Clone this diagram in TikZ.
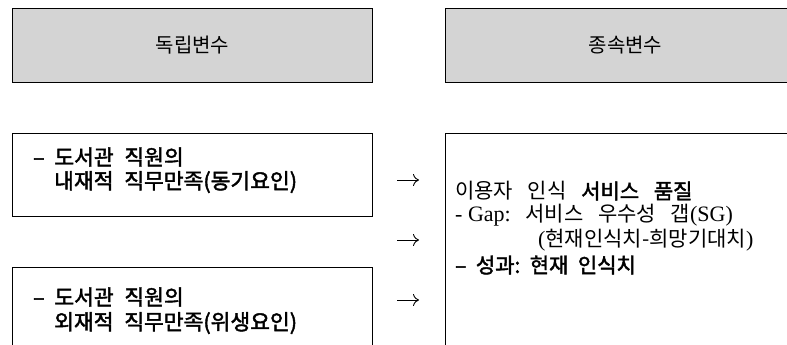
\documentclass[tikz,border=0pt]{standalone}
\usepackage{fontspec}
\setmainfont{Noto Sans CJK KR}
\newfontfamily\krmed[FakeBold=2]{Noto Sans CJK KR}
\newfontfamily\lser{Liberation Serif}
\usetikzlibrary{arrows.meta}
\definecolor{hdrgray}{HTML}{D4D4D4}
\newcommand\ks{\hspace{0.5em}}
\newcommand\kr{\hspace{0.7em}}
\newcommand\kn{\hspace{0.45em}}
\newcommand\serlat{\lser\fontsize{22}{24}\selectfont}
\tikzset{
  hdr/.style={draw=black, fill=hdrgray, line width=1pt, anchor=north west,
    minimum width=360pt, minimum height=74pt, inner sep=0pt,
    font=\fontsize{20}{24}\selectfont},
  pbox/.style={draw=black, fill=white, line width=1pt, anchor=north west,
    minimum width=360pt, inner sep=0pt},
  ltxt/.style={anchor=west, inner sep=0pt, font=\fontsize{21.5}{24}\selectfont\krmed},
  rtxt/.style={anchor=west, inner sep=0pt, font=\fontsize{21}{24}\selectfont},
  arrsty/.style={-{Computer Modern Rightarrow[length=6pt,width=12pt]}, line width=0.9pt},
}
\begin{document}
\begin{tikzpicture}[x=1pt,y=-1pt]
\useasboundingbox (0,0) rectangle (787,345);
\clip (0,0) rectangle (787,345);
% headers
\node[hdr] (hL) at (12,8) {독립변수};
\node[hdr] (hR) at (445,8) {종속변수};
% boxes
\node[pbox, minimum height=83pt] (b1) at (12,133) {};
\node[pbox, minimum height=100pt] (b2) at (12,267) {};
\node[pbox, minimum height=230pt] (br) at (445,133) {};
% left texts
\node[ltxt] (b1a) at (33,157) {–\kn 도서관\ks 직원의};
\node[ltxt] (b1b) at (54,182) {내재적\ks 직무만족(동기요인)};
\node[ltxt] (b2a) at (33,297) {–\kn 도서관\ks 직원의};
\node[ltxt] (b2b) at (54,323) {외재적\ks 직무만족(위생요인)};
% arrows
\coordinate (a1s) at (397,180); \coordinate (a1e) at (419,180);
\coordinate (a2s) at (397,240); \coordinate (a2e) at (419,240);
\coordinate (a3s) at (397,300); \coordinate (a3e) at (419,300);
\draw[arrsty] (a1s) -- (a1e);
\draw[arrsty] (a2s) -- (a2e);
\draw[arrsty] (a3s) -- (a3e);
% right texts
\node[rtxt] (r1) at (455,191) {이용자\kr 인식\kr {\krmed 서비스\kr 품질}};
\node[rtxt] (r2) at (455,215) {{\serlat -\ Gap:}\kr 서비스\kr 우수성\kr 갭{\serlat(SG)}};
\node[rtxt] (r3) at (538,240) {{\serlat(}현재인식치-희망기대치{\serlat)}};
\node[rtxt] (r4) at (455,265) {\krmed –\kn 성과:\kn 현재\kn 인식치};
\end{tikzpicture}
\end{document}
